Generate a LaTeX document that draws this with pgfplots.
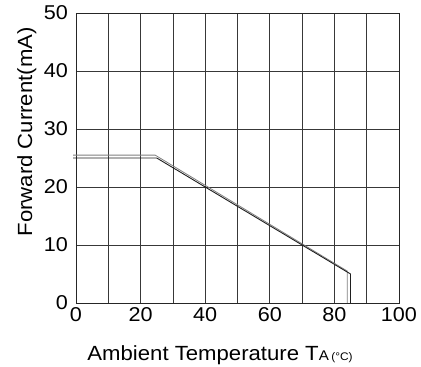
\documentclass[border=0pt]{standalone}
\usepackage{pgfplots}
\pgfplotsset{compat=1.18}
\usepackage{fontspec}
\setmainfont{Liberation Sans}
\begin{document}
\begin{tikzpicture}
\useasboundingbox (-76pt,-64pt) rectangle (345pt,303pt);
\begin{axis}[
  at={(0pt,0pt)}, anchor=south west,
  scale only axis,
  width=323pt, height=290pt,
  xmin=0, xmax=100, ymin=0, ymax=50,
  xtick={0,20,...,100},
  minor xtick={10,30,...,90},
  ytick={0,10,...,50},
  grid=both,
  major grid style={draw=black!78, line width=0.7pt},
  minor grid style={draw=black!78, line width=0.7pt},
  axis line style={draw=black!85, line width=0.8pt},
  tick style={draw=none},
  /pgf/number format/assume math mode=true,
  tick label style={font=\fontsize{20}{22}\selectfont, xscale=1.08},
  xticklabel style={yshift=-1pt},
  yticklabel style={xshift=-4pt},
  xlabel={Ambient Temperature T{\fontsize{14}{15}\selectfont A\,{\fontsize{11}{12}\selectfont(\textdegree C)}}},
  ylabel={Forward Current(mA)},
  label style={font=\fontsize{20.5}{22}\selectfont, xscale=1.08},
  xlabel style={at={(axis description cs:0.446,-0.197)}, anchor=base},
  ylabel style={at={(axis description cs:-0.152,0.59)}, anchor=center, rotate=0},
  clip=false,
]
% derating curve, drawn as a double trace
\addplot[draw=black!50, line width=0.8pt] coordinates {(-0.9,25.5) (24.5,25.5) (84.0,5.5) (84.0,0)};
\addplot[draw=black!88, line width=0.9pt] coordinates {(-0.9,25) (25,25) (85,5) (85,0)};
\end{axis}
\end{tikzpicture}
\end{document}
